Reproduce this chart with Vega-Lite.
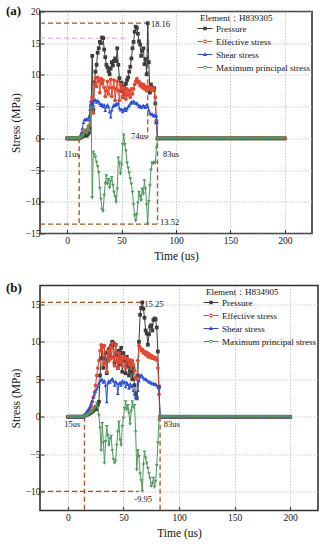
{
  "$schema": "https://vega.github.io/schema/vega-lite/v6.json",
  "padding": {"left": 5, "top": 3.5, "right": 2, "bottom": 2},
  "config": {
    "font": "Liberation Serif",
    "view": {"stroke": "#333", "strokeWidth": 1.6},
    "axis": {"labelFont": "Liberation Serif", "titleFont": "Liberation Serif", "labelFontSize": 9.5, "titleFontSize": 11.5, "titleFontWeight": "normal", "labelColor": "#111", "titleColor": "#111", "domain": false, "tickSize": -4, "tickColor": "#333", "tickWidth": 1, "grid": true, "gridColor": "#bbbbbb", "gridDash": [1.5, 1.5], "gridWidth": 0.8},
    "axisX": {"labelPadding": 6, "titlePadding": 5},
    "axisY": {"labelPadding": 4, "titlePadding": 4},
    "legend": {"orient": "top-right", "offset": 2, "padding": 0, "titleFont": "Liberation Serif", "labelFont": "Liberation Serif", "titleFontSize": 9, "labelFontSize": 9, "titleFontWeight": "normal", "titleColor": "#111", "labelColor": "#111", "symbolSize": 100, "labelOffset": 6, "rowPadding": 3, "titlePadding": 1, "symbolStrokeWidth": 0},
    "title": {"font": "Liberation Serif", "fontSize": 13, "fontWeight": "bold", "anchor": "start", "frame": "group", "color": "#111", "baseline": "bottom"}
  },
  "datasets": {
    "a": [
      {"t":0,"P":0,"E":0,"S":0,"M":0},{"t":1,"P":0,"E":0,"S":0,"M":0},{"t":2,"P":0,"E":0,"S":0,"M":0},{"t":3,"P":0,"E":0,"S":0,"M":0},{"t":4,"P":0,"E":0,"S":0,"M":0},{"t":5,"P":0,"E":0,"S":0,"M":0},{"t":6,"P":0,"E":0,"S":0,"M":0},{"t":7,"P":0,"E":0,"S":0,"M":0},{"t":8,"P":0,"E":0,"S":0,"M":0},{"t":9,"P":0,"E":0,"S":0,"M":0},{"t":10,"P":0,"E":0,"S":0,"M":0},
      {"t":11,"P":0,"E":0,"S":0,"M":0},
      {"t":12,"P":0.1,"E":0.2,"S":0.4,"M":0.1},
      {"t":13,"P":0.2,"E":0.4,"S":0.9,"M":0.2},
      {"t":14,"P":0.3,"E":0.6,"S":1.6,"M":0.3},
      {"t":15,"P":0.4,"E":0.9,"S":2.5,"M":0.5},
      {"t":16,"P":0.5,"E":1.1,"S":3.0,"M":0.9},
      {"t":17,"P":0.6,"E":1.2,"S":2.9,"M":1.3},
      {"t":18,"P":0.4,"E":1.0,"S":3.1,"M":0.8},
      {"t":19,"P":0.7,"E":1.5,"S":3.0,"M":1.8},
      {"t":20,"P":0.9,"E":2.0,"S":3.3,"M":1.2},
      {"t":21,"P":1.5,"E":3.5,"S":4.6,"M":2.5},
      {"t":22,"P":5.0,"E":5.8,"S":5.5,"M":4.8},
      {"t":23,"P":13.0,"E":6.5,"S":5.8,"M":-9.4},
      {"t":24,"P":4.5,"E":4.0,"S":5.2,"M":-2.2},
      {"t":25,"P":8.8,"E":8.6,"S":6.0,"M":-2.6},
      {"t":26,"P":10.5,"E":9.5,"S":6.1,"M":-3.0},
      {"t":27,"P":11.6,"E":8.2,"S":5.7,"M":-3.8},
      {"t":28,"P":13.5,"E":9.6,"S":6.0,"M":-4.5},
      {"t":29,"P":14.2,"E":9.0,"S":5.8,"M":-5.4},
      {"t":30,"P":15.2,"E":7.2,"S":5.5,"M":-7.9},
      {"t":31,"P":15.0,"E":9.4,"S":5.2,"M":-9.6},
      {"t":32,"P":15.9,"E":8.6,"S":5.4,"M":-11.2},
      {"t":33,"P":15.8,"E":9.2,"S":5.0,"M":-11.5},
      {"t":34,"P":14.0,"E":8.0,"S":5.3,"M":-9.0},
      {"t":35,"P":12.8,"E":6.6,"S":4.4,"M":-7.1},
      {"t":36,"P":11.6,"E":7.5,"S":5.0,"M":-5.9},
      {"t":37,"P":11.2,"E":9.0,"S":5.3,"M":-7.2},
      {"t":38,"P":10.6,"E":7.0,"S":5.0,"M":-6.5},
      {"t":39,"P":10.1,"E":8.0,"S":4.2,"M":-7.8},
      {"t":40,"P":11.0,"E":9.3,"S":3.4,"M":-6.8},
      {"t":41,"P":12.0,"E":6.6,"S":4.5,"M":-6.2},
      {"t":42,"P":11.5,"E":8.0,"S":5.0,"M":-7.4},
      {"t":43,"P":12.2,"E":9.2,"S":5.3,"M":-8.5},
      {"t":44,"P":12.6,"E":6.0,"S":5.2,"M":-9.2},
      {"t":45,"P":12.2,"E":7.8,"S":5.5,"M":-10.1},
      {"t":46,"P":14.2,"E":9.0,"S":5.3,"M":-8.0},
      {"t":47,"P":11.6,"E":7.5,"S":5.6,"M":-3.1},
      {"t":48,"P":9.5,"E":6.0,"S":4.8,"M":-3.9},
      {"t":49,"P":7.5,"E":8.5,"S":4.5,"M":-5.6},
      {"t":50,"P":8.8,"E":7.8,"S":4.6,"M":-4.2},
      {"t":51,"P":6.5,"E":6.5,"S":4.2,"M":-1.0},
      {"t":52,"P":8.2,"E":8.0,"S":4.5,"M":0.5},
      {"t":53,"P":7.0,"E":7.0,"S":4.8,"M":-1.0},
      {"t":54,"P":8.6,"E":6.2,"S":4.4,"M":-2.0},
      {"t":55,"P":9.2,"E":7.8,"S":4.7,"M":-3.9},
      {"t":56,"P":9.6,"E":6.8,"S":5.0,"M":-4.7},
      {"t":57,"P":10.5,"E":7.5,"S":5.2,"M":-5.5},
      {"t":58,"P":11.3,"E":6.5,"S":5.5,"M":-6.4},
      {"t":59,"P":12.6,"E":7.8,"S":5.8,"M":-7.2},
      {"t":60,"P":14.2,"E":7.0,"S":5.6,"M":-8.5},
      {"t":61,"P":15.2,"E":7.8,"S":5.9,"M":-10.5},
      {"t":62,"P":16.8,"E":8.5,"S":5.7,"M":-12.2},
      {"t":63,"P":17.6,"E":9.0,"S":5.5,"M":-13.0},
      {"t":64,"P":17.4,"E":9.4,"S":5.6,"M":-12.0},
      {"t":65,"P":16.5,"E":8.8,"S":5.3,"M":-10.2},
      {"t":66,"P":15.3,"E":9.0,"S":5.0,"M":-8.5},
      {"t":67,"P":14.8,"E":8.3,"S":5.2,"M":-9.1},
      {"t":68,"P":13.0,"E":8.6,"S":4.9,"M":-9.8},
      {"t":69,"P":13.8,"E":8.0,"S":5.1,"M":-8.0},
      {"t":70,"P":14.2,"E":8.5,"S":5.2,"M":-8.8},
      {"t":71,"P":11.7,"E":7.8,"S":5.0,"M":-6.7},
      {"t":72,"P":12.5,"E":8.2,"S":4.9,"M":-8.0},
      {"t":73,"P":10.1,"E":7.5,"S":5.3,"M":-10.5},
      {"t":74,"P":18.16,"E":8.0,"S":5.0,"M":-13.52},
      {"t":75,"P":12.0,"E":8.2,"S":4.5,"M":-10.0},
      {"t":76,"P":7.2,"E":7.8,"S":4.0,"M":-7.5},
      {"t":77,"P":8.5,"E":8.0,"S":3.8,"M":-5.0},
      {"t":78,"P":8.0,"E":7.6,"S":3.9,"M":-3.9},
      {"t":79,"P":7.6,"E":7.9,"S":3.6,"M":-4.0},
      {"t":80,"P":7.9,"E":7.5,"S":3.7,"M":-3.8},
      {"t":81,"P":5.5,"E":6.5,"S":3.5,"M":-3.9},
      {"t":82,"P":2.5,"E":2.8,"S":3.6,"M":-1.5},
      {"t":83,"P":0,"E":0,"S":0,"M":0},
      {"t":84,"P":0,"E":0,"S":0,"M":0},{"t":86,"P":0,"E":0,"S":0,"M":0},{"t":88,"P":0,"E":0,"S":0,"M":0},{"t":90,"P":0,"E":0,"S":0,"M":0},{"t":92,"P":0,"E":0,"S":0,"M":0},{"t":94,"P":0,"E":0,"S":0,"M":0},{"t":96,"P":0,"E":0,"S":0,"M":0},{"t":98,"P":0,"E":0,"S":0,"M":0},{"t":100,"P":0,"E":0,"S":0,"M":0},{"t":102,"P":0,"E":0,"S":0,"M":0},{"t":104,"P":0,"E":0,"S":0,"M":0},{"t":106,"P":0,"E":0,"S":0,"M":0},{"t":108,"P":0,"E":0,"S":0,"M":0},{"t":110,"P":0,"E":0,"S":0,"M":0},{"t":112,"P":0,"E":0,"S":0,"M":0},{"t":114,"P":0,"E":0,"S":0,"M":0},{"t":116,"P":0,"E":0,"S":0,"M":0},{"t":118,"P":0,"E":0,"S":0,"M":0},{"t":120,"P":0,"E":0,"S":0,"M":0},{"t":122,"P":0,"E":0,"S":0,"M":0},{"t":124,"P":0,"E":0,"S":0,"M":0},{"t":126,"P":0,"E":0,"S":0,"M":0},{"t":128,"P":0,"E":0,"S":0,"M":0},{"t":130,"P":0,"E":0,"S":0,"M":0},{"t":132,"P":0,"E":0,"S":0,"M":0},{"t":134,"P":0,"E":0,"S":0,"M":0},{"t":136,"P":0,"E":0,"S":0,"M":0},{"t":138,"P":0,"E":0,"S":0,"M":0},{"t":140,"P":0,"E":0,"S":0,"M":0},{"t":142,"P":0,"E":0,"S":0,"M":0},{"t":144,"P":0,"E":0,"S":0,"M":0},{"t":146,"P":0,"E":0,"S":0,"M":0},{"t":148,"P":0,"E":0,"S":0,"M":0},{"t":150,"P":0,"E":0,"S":0,"M":0},{"t":152,"P":0,"E":0,"S":0,"M":0},{"t":154,"P":0,"E":0,"S":0,"M":0},{"t":156,"P":0,"E":0,"S":0,"M":0},{"t":158,"P":0,"E":0,"S":0,"M":0},{"t":160,"P":0,"E":0,"S":0,"M":0},{"t":162,"P":0,"E":0,"S":0,"M":0},{"t":164,"P":0,"E":0,"S":0,"M":0},{"t":166,"P":0,"E":0,"S":0,"M":0},{"t":168,"P":0,"E":0,"S":0,"M":0},{"t":170,"P":0,"E":0,"S":0,"M":0},{"t":172,"P":0,"E":0,"S":0,"M":0},{"t":174,"P":0,"E":0,"S":0,"M":0},{"t":176,"P":0,"E":0,"S":0,"M":0},{"t":178,"P":0,"E":0,"S":0,"M":0},{"t":180,"P":0,"E":0,"S":0,"M":0},{"t":182,"P":0,"E":0,"S":0,"M":0},{"t":184,"P":0,"E":0,"S":0,"M":0},{"t":186,"P":0,"E":0,"S":0,"M":0},{"t":188,"P":0,"E":0,"S":0,"M":0},{"t":190,"P":0,"E":0,"S":0,"M":0},{"t":192,"P":0,"E":0,"S":0,"M":0},{"t":194,"P":0,"E":0,"S":0,"M":0},{"t":196,"P":0,"E":0,"S":0,"M":0},{"t":198,"P":0,"E":0,"S":0,"M":0},{"t":200,"P":0,"E":0,"S":0,"M":0}
    ],
    "b": [
      {"t":0,"P":0,"E":0,"S":0,"M":0},{"t":1,"P":0,"E":0,"S":0,"M":0},{"t":2,"P":0,"E":0,"S":0,"M":0},{"t":3,"P":0,"E":0,"S":0,"M":0},{"t":4,"P":0,"E":0,"S":0,"M":0},{"t":5,"P":0,"E":0,"S":0,"M":0},{"t":6,"P":0,"E":0,"S":0,"M":0},{"t":7,"P":0,"E":0,"S":0,"M":0},{"t":8,"P":0,"E":0,"S":0,"M":0},{"t":9,"P":0,"E":0,"S":0,"M":0},{"t":10,"P":0,"E":0,"S":0,"M":0},{"t":11,"P":0,"E":0,"S":0,"M":0},{"t":12,"P":0,"E":0,"S":0,"M":0},{"t":13,"P":0,"E":0,"S":0,"M":0},{"t":14,"P":0,"E":0,"S":0,"M":0},
      {"t":15,"P":0.1,"E":0.1,"S":0.3,"M":0.05},
      {"t":16,"P":0.2,"E":0.2,"S":0.5,"M":0.1},
      {"t":17,"P":0.3,"E":0.3,"S":0.7,"M":0.2},
      {"t":18,"P":0.3,"E":0.5,"S":0.9,"M":0.3},
      {"t":19,"P":0.4,"E":0.7,"S":1.1,"M":0.4},
      {"t":20,"P":0.5,"E":1.0,"S":1.4,"M":0.5},
      {"t":21,"P":0.6,"E":1.4,"S":1.8,"M":0.6},
      {"t":22,"P":0.7,"E":2.0,"S":2.2,"M":0.7},
      {"t":23,"P":0.8,"E":2.6,"S":2.6,"M":0.9},
      {"t":24,"P":1.0,"E":3.3,"S":3.0,"M":1.1},
      {"t":25,"P":1.3,"E":4.2,"S":3.4,"M":1.4},
      {"t":26,"P":1.0,"E":5.5,"S":3.7,"M":1.8},
      {"t":27,"P":1.6,"E":6.5,"S":4.0,"M":1.2},
      {"t":28,"P":2.0,"E":7.5,"S":4.5,"M":0.2},
      {"t":29,"P":5.5,"E":8.8,"S":4.8,"M":-1.5},
      {"t":30,"P":7.8,"E":9.6,"S":4.9,"M":-4.5},
      {"t":31,"P":9.4,"E":9.2,"S":5.0,"M":-0.9},
      {"t":32,"P":6.5,"E":7.0,"S":4.6,"M":-3.5},
      {"t":33,"P":7.8,"E":9.5,"S":4.8,"M":-6.2},
      {"t":34,"P":8.5,"E":7.2,"S":4.2,"M":-3.3},
      {"t":35,"P":5.8,"E":6.0,"S":2.0,"M":-1.3},
      {"t":36,"P":7.5,"E":8.8,"S":4.5,"M":-2.5},
      {"t":37,"P":9.0,"E":7.5,"S":4.8,"M":-3.8},
      {"t":38,"P":8.0,"E":9.3,"S":4.6,"M":-2.9},
      {"t":39,"P":9.5,"E":7.8,"S":4.9,"M":-2.6},
      {"t":40,"P":10.0,"E":9.8,"S":5.1,"M":-4.5},
      {"t":41,"P":9.8,"E":8.0,"S":4.8,"M":-5.7},
      {"t":42,"P":7.2,"E":6.8,"S":4.2,"M":-6.2},
      {"t":43,"P":9.6,"E":9.6,"S":4.7,"M":-5.9},
      {"t":44,"P":8.2,"E":7.5,"S":4.5,"M":-3.8},
      {"t":45,"P":6.5,"E":6.5,"S":3.1,"M":-2.0},
      {"t":46,"P":8.8,"E":8.5,"S":4.4,"M":-0.7},
      {"t":47,"P":7.0,"E":7.2,"S":4.6,"M":-3.1},
      {"t":48,"P":9.2,"E":8.0,"S":4.2,"M":-3.8},
      {"t":49,"P":6.0,"E":6.8,"S":4.8,"M":-1.3},
      {"t":50,"P":8.5,"E":7.8,"S":4.5,"M":-0.2},
      {"t":51,"P":7.5,"E":8.0,"S":4.7,"M":1.1},
      {"t":52,"P":5.8,"E":6.5,"S":4.0,"M":2.0},
      {"t":53,"P":8.0,"E":7.8,"S":4.6,"M":0.9},
      {"t":54,"P":6.8,"E":7.5,"S":4.3,"M":1.5},
      {"t":55,"P":5.5,"E":7.0,"S":3.8,"M":0.5},
      {"t":56,"P":7.2,"E":7.6,"S":4.4,"M":-1.0},
      {"t":57,"P":6.0,"E":6.8,"S":4.0,"M":0.8},
      {"t":58,"P":5.0,"E":7.5,"S":4.2,"M":2.0},
      {"t":59,"P":6.5,"E":7.0,"S":3.5,"M":1.2},
      {"t":60,"P":4.2,"E":6.2,"S":3.0,"M":1.5},
      {"t":61,"P":3.0,"E":5.2,"S":2.6,"M":-2.0},
      {"t":62,"P":2.5,"E":5.0,"S":2.4,"M":-7.1},
      {"t":63,"P":5.5,"E":7.5,"S":3.5,"M":-4.5},
      {"t":64,"P":10.0,"E":9.5,"S":4.8,"M":-5.3},
      {"t":65,"P":13.6,"E":9.2,"S":5.3,"M":-7.6},
      {"t":66,"P":14.5,"E":8.8,"S":5.6,"M":-8.5},
      {"t":67,"P":15.25,"E":9.0,"S":5.4,"M":-9.95},
      {"t":68,"P":14.4,"E":8.5,"S":5.2,"M":-6.4},
      {"t":69,"P":13.2,"E":8.7,"S":5.0,"M":-4.7},
      {"t":70,"P":11.5,"E":8.3,"S":5.1,"M":-5.5},
      {"t":71,"P":11.1,"E":8.6,"S":4.9,"M":-6.2},
      {"t":72,"P":9.6,"E":8.0,"S":4.8,"M":-6.9},
      {"t":73,"P":11.0,"E":8.4,"S":4.6,"M":-7.6},
      {"t":74,"P":12.0,"E":7.9,"S":4.7,"M":-8.2},
      {"t":75,"P":12.2,"E":8.2,"S":4.5,"M":-9.3},
      {"t":76,"P":11.5,"E":7.8,"S":4.4,"M":-8.9},
      {"t":77,"P":12.9,"E":8.0,"S":4.5,"M":-8.2},
      {"t":78,"P":13.1,"E":7.7,"S":4.3,"M":-9.4},
      {"t":79,"P":13.0,"E":7.9,"S":4.4,"M":-8.6},
      {"t":80,"P":11.9,"E":7.6,"S":4.2,"M":-6.5},
      {"t":81,"P":8.7,"E":6.5,"S":4.0,"M":-3.5},
      {"t":82,"P":4.0,"E":3.0,"S":3.8,"M":-0.5},
      {"t":83,"P":0,"E":0,"S":0,"M":0},
      {"t":84,"P":0,"E":0,"S":0,"M":0},{"t":86,"P":0,"E":0,"S":0,"M":0},{"t":88,"P":0,"E":0,"S":0,"M":0},{"t":90,"P":0,"E":0,"S":0,"M":0},{"t":92,"P":0,"E":0,"S":0,"M":0},{"t":94,"P":0,"E":0,"S":0,"M":0},{"t":96,"P":0,"E":0,"S":0,"M":0},{"t":98,"P":0,"E":0,"S":0,"M":0},{"t":100,"P":0,"E":0,"S":0,"M":0},{"t":102,"P":0,"E":0,"S":0,"M":0},{"t":104,"P":0,"E":0,"S":0,"M":0},{"t":106,"P":0,"E":0,"S":0,"M":0},{"t":108,"P":0,"E":0,"S":0,"M":0},{"t":110,"P":0,"E":0,"S":0,"M":0},{"t":112,"P":0,"E":0,"S":0,"M":0},{"t":114,"P":0,"E":0,"S":0,"M":0},{"t":116,"P":0,"E":0,"S":0,"M":0},{"t":118,"P":0,"E":0,"S":0,"M":0},{"t":120,"P":0,"E":0,"S":0,"M":0},{"t":122,"P":0,"E":0,"S":0,"M":0},{"t":124,"P":0,"E":0,"S":0,"M":0},{"t":126,"P":0,"E":0,"S":0,"M":0},{"t":128,"P":0,"E":0,"S":0,"M":0},{"t":130,"P":0,"E":0,"S":0,"M":0},{"t":132,"P":0,"E":0,"S":0,"M":0},{"t":134,"P":0,"E":0,"S":0,"M":0},{"t":136,"P":0,"E":0,"S":0,"M":0},{"t":138,"P":0,"E":0,"S":0,"M":0},{"t":140,"P":0,"E":0,"S":0,"M":0},{"t":142,"P":0,"E":0,"S":0,"M":0},{"t":144,"P":0,"E":0,"S":0,"M":0},{"t":146,"P":0,"E":0,"S":0,"M":0},{"t":148,"P":0,"E":0,"S":0,"M":0},{"t":150,"P":0,"E":0,"S":0,"M":0},{"t":152,"P":0,"E":0,"S":0,"M":0},{"t":154,"P":0,"E":0,"S":0,"M":0},{"t":156,"P":0,"E":0,"S":0,"M":0},{"t":158,"P":0,"E":0,"S":0,"M":0},{"t":160,"P":0,"E":0,"S":0,"M":0},{"t":162,"P":0,"E":0,"S":0,"M":0},{"t":164,"P":0,"E":0,"S":0,"M":0},{"t":166,"P":0,"E":0,"S":0,"M":0},{"t":168,"P":0,"E":0,"S":0,"M":0},{"t":170,"P":0,"E":0,"S":0,"M":0},{"t":172,"P":0,"E":0,"S":0,"M":0},{"t":174,"P":0,"E":0,"S":0,"M":0},{"t":176,"P":0,"E":0,"S":0,"M":0},{"t":178,"P":0,"E":0,"S":0,"M":0},{"t":180,"P":0,"E":0,"S":0,"M":0},{"t":182,"P":0,"E":0,"S":0,"M":0},{"t":184,"P":0,"E":0,"S":0,"M":0},{"t":186,"P":0,"E":0,"S":0,"M":0},{"t":188,"P":0,"E":0,"S":0,"M":0},{"t":190,"P":0,"E":0,"S":0,"M":0},{"t":192,"P":0,"E":0,"S":0,"M":0},{"t":194,"P":0,"E":0,"S":0,"M":0},{"t":196,"P":0,"E":0,"S":0,"M":0},{"t":198,"P":0,"E":0,"S":0,"M":0},{"t":200,"P":0,"E":0,"S":0,"M":0}
    ],
    "ruleA": [
      {"t":-25,"t2":74,"v":18.16,"v2":18.16},
      {"t":74,"t2":74,"v":18.16,"v2":0},
      {"t":-25,"t2":83,"v":-13.52,"v2":-13.52},
      {"t":11,"t2":11,"v":0,"v2":-13.52},
      {"t":83,"t2":83,"v":0.5,"v2":-13.52}
    ],
    "pinkA": [
      {"t":-25,"t2":54,"v":15.8,"v2":15.8}
    ],
    "ruleB": [
      {"t":-25,"t2":66,"v":15.25,"v2":15.25},
      {"t":-25,"t2":64,"v":-9.95,"v2":-9.95},
      {"t":15,"t2":15,"v":0,"v2":-12.5},
      {"t":83,"t2":83,"v":0,"v2":-12.5}
    ],
    "textA": [
      {"t":77,"v":18.0,"label":"18.16"},
      {"t":58.6,"v":0.4,"label":"74us"},
      {"t":-3,"v":-2.4,"label":"11us"},
      {"t":88,"v":-2.4,"label":"83us"},
      {"t":85.3,"v":-13.2,"label":"13.52"}
    ],
    "textB": [
      {"t":68.8,"v":15.1,"label":"15.25"},
      {"t":-3.1,"v":-1.0,"label":"15us"},
      {"t":86.2,"v":-1.0,"label":"83us"},
      {"t":59.8,"v":-10.9,"label":"-9.95"}
    ]
  },
  "vconcat": [
    {
      "width": 272,
      "height": 222,
      "title": {"text": "(a)", "dx": -34, "offset": -11},
      "encoding": {
        "x": {"field": "t", "type": "quantitative", "scale": {"domain": [-25, 225], "nice": false, "zero": false}, "axis": {"values": [0, 50, 100, 150, 200], "title": "Time (us)"}},
        "y": {"field": "v", "type": "quantitative", "scale": {"domain": [-15, 20], "nice": false, "zero": false}, "axis": {"values": [-15, -10, -5, 0, 5, 10, 15, 20], "title": "Stress (MPa)"}}
      },
      "layer": [
        {"data": {"name": "pinkA"}, "mark": {"type": "rule", "color": "#f27bbd", "strokeDash": [5, 3], "strokeWidth": 1, "opacity": 0.8}, "encoding": {"x2": {"field": "t2"}, "y2": {"field": "v2"}}},
        {"data": {"name": "ruleA"}, "mark": {"type": "rule", "color": "#a9531f", "strokeDash": [5, 3], "strokeWidth": 1.3}, "encoding": {"x2": {"field": "t2"}, "y2": {"field": "v2"}}},
        {"data": {"name": "a"}, "transform": [{"fold": ["P"], "as": ["k", "v"]}], "mark": {"type": "line", "strokeWidth": 1, "color": "#3c3c3c"}},
        {"data": {"name": "a"}, "transform": [{"fold": ["P"], "as": ["k", "v"]}], "mark": {"type": "point", "filled": true, "size": 14, "opacity": 1, "shape": "square", "color": "#3c3c3c"}},
        {"data": {"name": "a"}, "transform": [{"fold": ["E"], "as": ["k", "v"]}], "mark": {"type": "line", "strokeWidth": 1, "color": "#e5472f"}},
        {"data": {"name": "a"}, "transform": [{"fold": ["E"], "as": ["k", "v"]}], "mark": {"type": "point", "filled": true, "size": 14, "opacity": 1, "shape": "circle", "color": "#e5472f"}},
        {"data": {"name": "a"}, "transform": [{"fold": ["S"], "as": ["k", "v"]}], "mark": {"type": "line", "strokeWidth": 1, "color": "#2b4fd8"}},
        {"data": {"name": "a"}, "transform": [{"fold": ["S"], "as": ["k", "v"]}], "mark": {"type": "point", "filled": true, "size": 14, "opacity": 1, "shape": "triangle-up", "color": "#2b4fd8"}},
        {"data": {"name": "a"}, "transform": [{"fold": ["M"], "as": ["k", "v"]}], "mark": {"type": "line", "strokeWidth": 1, "color": "#4f9a5c"}},
        {"data": {"name": "a"}, "transform": [{"fold": ["M"], "as": ["k", "v"]}], "mark": {"type": "point", "filled": true, "size": 14, "opacity": 1, "shape": "triangle-down", "color": "#4f9a5c"}},
        {"data": {"name": "a"}, "transform": [{"fold": ["P", "E", "S", "M"], "as": ["k", "v"]}, {"filter": "datum.t >= 150"}], "mark": {"type": "point", "filled": true, "opacity": 1, "clip": true},
          "encoding": {
            "y": {"field": "t", "type": "quantitative"},
            "fill": {"field": "k", "type": "nominal", "scale": {"domain": ["P", "E", "S", "M"], "range": ["#3c3c3c", "#e5472f", "#2b4fd8", "#4f9a5c"]}, "title": "Element：H839305",
              "legend": {"labelExpr": "datum.label === 'P' ? 'Pressure' : datum.label === 'E' ? 'Effective stress' : datum.label === 'S' ? 'Shear stress' : 'Maximum principal stress'"}},
            "shape": {"field": "k", "type": "nominal", "scale": {"domain": ["P", "E", "S", "M"], "range": ["M-1.5,-0.1H1.5V0.1H-1.5ZM-0.35,-0.35H0.35V0.35H-0.35Z", "M-1.5,-0.1H1.5V0.1H-1.5ZM-0.38,0A0.38,0.38 0 1,0 0.38,0A0.38,0.38 0 1,0 -0.38,0Z", "M-1.5,-0.1H1.5V0.1H-1.5ZM0,-0.45L0.42,0.3H-0.42Z", "M-1.5,-0.1H1.5V0.1H-1.5ZM0,0.45L0.42,-0.3H-0.42Z"]}, "title": "Element：H839305",
              "legend": {"labelExpr": "datum.label === 'P' ? 'Pressure' : datum.label === 'E' ? 'Effective stress' : datum.label === 'S' ? 'Shear stress' : 'Maximum principal stress'"}}
          }},
        {"data": {"name": "textA"}, "mark": {"type": "text", "align": "left", "baseline": "middle", "fontSize": 8.5, "font": "Liberation Serif", "color": "#111"}, "encoding": {"text": {"field": "label"}}}
      ]
    },
    {
      "width": 278,
      "height": 225,
      "title": {"text": "(b)", "dx": -34, "offset": -9},
      "encoding": {
        "x": {"field": "t", "type": "quantitative", "scale": {"domain": [-25, 225], "nice": false, "zero": false}, "axis": {"values": [0, 50, 100, 150, 200], "title": "Time (us)"}},
        "y": {"field": "v", "type": "quantitative", "scale": {"domain": [-12.5, 17.5], "nice": false, "zero": false}, "axis": {"values": [-10, -5, 0, 5, 10, 15], "title": "Stress (MPa)"}}
      },
      "layer": [
        {"data": {"name": "ruleB"}, "mark": {"type": "rule", "color": "#a9531f", "strokeDash": [5, 3], "strokeWidth": 1.3}, "encoding": {"x2": {"field": "t2"}, "y2": {"field": "v2"}}},
        {"data": {"name": "b"}, "transform": [{"fold": ["P"], "as": ["k", "v"]}], "mark": {"type": "line", "strokeWidth": 1, "color": "#3c3c3c"}},
        {"data": {"name": "b"}, "transform": [{"fold": ["P"], "as": ["k", "v"]}], "mark": {"type": "point", "filled": true, "size": 14, "opacity": 1, "shape": "square", "color": "#3c3c3c"}},
        {"data": {"name": "b"}, "transform": [{"fold": ["E"], "as": ["k", "v"]}], "mark": {"type": "line", "strokeWidth": 1, "color": "#e5472f"}},
        {"data": {"name": "b"}, "transform": [{"fold": ["E"], "as": ["k", "v"]}], "mark": {"type": "point", "filled": true, "size": 14, "opacity": 1, "shape": "circle", "color": "#e5472f"}},
        {"data": {"name": "b"}, "transform": [{"fold": ["S"], "as": ["k", "v"]}], "mark": {"type": "line", "strokeWidth": 1, "color": "#2b4fd8"}},
        {"data": {"name": "b"}, "transform": [{"fold": ["S"], "as": ["k", "v"]}], "mark": {"type": "point", "filled": true, "size": 14, "opacity": 1, "shape": "triangle-up", "color": "#2b4fd8"}},
        {"data": {"name": "b"}, "transform": [{"fold": ["M"], "as": ["k", "v"]}], "mark": {"type": "line", "strokeWidth": 1, "color": "#4f9a5c"}},
        {"data": {"name": "b"}, "transform": [{"fold": ["M"], "as": ["k", "v"]}], "mark": {"type": "point", "filled": true, "size": 14, "opacity": 1, "shape": "triangle-down", "color": "#4f9a5c"}},
        {"data": {"name": "b"}, "transform": [{"fold": ["P", "E", "S", "M"], "as": ["k", "v"]}, {"filter": "datum.t >= 150"}], "mark": {"type": "point", "filled": true, "opacity": 1, "clip": true},
          "encoding": {
            "y": {"field": "t", "type": "quantitative"},
            "fill": {"field": "k", "type": "nominal", "scale": {"domain": ["P", "E", "S", "M"], "range": ["#3c3c3c", "#e5472f", "#2b4fd8", "#4f9a5c"]}, "title": "Element：H834905",
              "legend": {"labelExpr": "datum.label === 'P' ? 'Pressure' : datum.label === 'E' ? 'Effective stress' : datum.label === 'S' ? 'Shear stress' : 'Maximum principal stress'"}},
            "shape": {"field": "k", "type": "nominal", "scale": {"domain": ["P", "E", "S", "M"], "range": ["M-1.5,-0.1H1.5V0.1H-1.5ZM-0.35,-0.35H0.35V0.35H-0.35Z", "M-1.5,-0.1H1.5V0.1H-1.5ZM-0.38,0A0.38,0.38 0 1,0 0.38,0A0.38,0.38 0 1,0 -0.38,0Z", "M-1.5,-0.1H1.5V0.1H-1.5ZM0,-0.45L0.42,0.3H-0.42Z", "M-1.5,-0.1H1.5V0.1H-1.5ZM0,0.45L0.42,-0.3H-0.42Z"]}, "title": "Element：H834905",
              "legend": {"labelExpr": "datum.label === 'P' ? 'Pressure' : datum.label === 'E' ? 'Effective stress' : datum.label === 'S' ? 'Shear stress' : 'Maximum principal stress'"}}
          }},
        {"data": {"name": "textB"}, "mark": {"type": "text", "align": "left", "baseline": "middle", "fontSize": 8.5, "font": "Liberation Serif", "color": "#111"}, "encoding": {"text": {"field": "label"}}}
      ]
    }
  ],
  "spacing": 18,
  "resolve": {"legend": {"shape": "independent", "fill": "independent"}}
}
